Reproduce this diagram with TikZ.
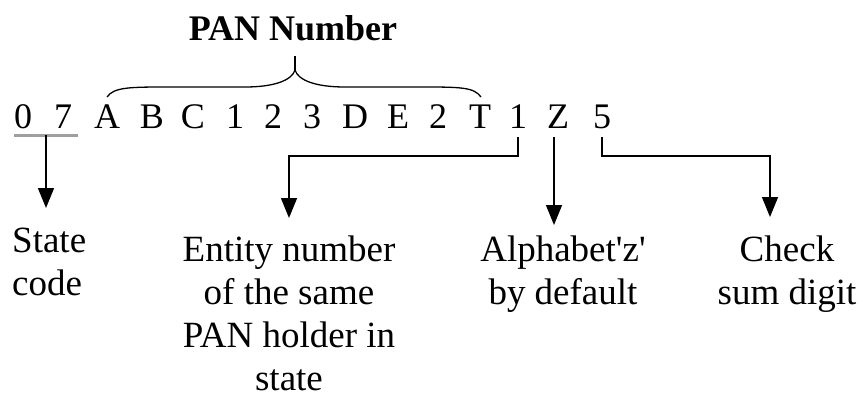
\documentclass[tikz,border=0pt]{standalone}
\usepackage{fontspec}
\setmainfont{Liberation Serif}
\usetikzlibrary{positioning,calc,arrows.meta}

\tikzset{
    chr/.style={anchor=base, inner sep=0pt, font=\fontsize{36}{43}\selectfont},
    lbl/.style={anchor=north, inner sep=0pt, align=center, font=\fontsize{37}{43}\selectfont},
    arr/.style={line width=1.5pt, -{Triangle[length=20pt,width=16pt]}},
    ulin/.style={line width=3pt, gray!75},
}

\begin{document}
\begin{tikzpicture}[x=1pt, y=-1pt]
    \useasboundingbox (0,0) rectangle (863,410);

    % Title
    \node[anchor=base, inner sep=0pt, font=\fontsize{36}{40}\selectfont\bfseries] (title) at (293,40) {PAN Number};

    % Characters of the number
    \foreach \x/\ch [count=\i] in {23/0, 63/7, 107/A, 152/B, 193/C, 235/1, 273/2, 312/3, 355/D, 398/E, 438/2, 480/T, 518/1, 558/Z, 602/5}
        \node[chr] (c\i) at (\x,128) {\ch};

    % Brace
    \coordinate (tip) at (295,70);
    \draw[line width=1.3pt] (107,97) .. controls (114,87) and (130,87) .. (170,87) -- (245,87)
        .. controls (275,87) and (292,80) .. (tip)
        .. controls (298,80) and (315,87) .. (345,87) -- (420,87)
        .. controls (460,87) and (474,87) .. (481,97);
    \draw[line width=1.3pt] (tip) -- ++(0,-14);

    % Underline of state code
    \draw[ulin] ([yshift=-7pt]c1.base west) -- coordinate (ul) ([xshift=6pt,yshift=-7pt]c2.base east);

    % Labels
    \node[lbl, align=left, anchor=north west] (state) at (12,228) {State\\code};
    \node[lbl] (entity) at (289,236) {Entity number\\of the same\\PAN holder in\\state};
    \node[lbl] (alpha) at (563,236) {Alphabet\textquotesingle z\textquotesingle\\by default};
    \node[lbl] (check) at (787,236) {Check\\sum digit};

    % Arrows
    \draw[arr, shorten >=20pt] (ul) -- (ul |- state.north);
    \draw[arr, shorten <=9pt, shorten >=18pt] (c13.base) -- ++(0,28) -| (entity.north);
    \draw[arr, shorten <=9pt, shorten >=11pt] ([xshift=-4pt]c14.base) -- ([xshift=-4pt]c14.base |- alpha.north);
    \draw[arr, shorten <=9pt, shorten >=19pt] (c15.base) -- ++(0,28) -| ([xshift=-17pt]check.north);
\end{tikzpicture}
\end{document}
